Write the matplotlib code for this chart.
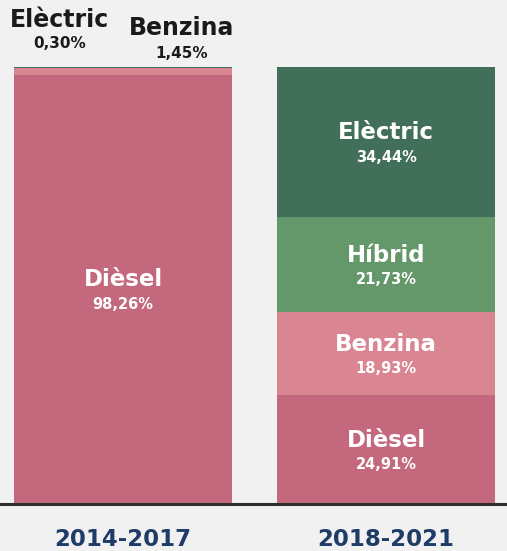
import matplotlib.pyplot as plt
import numpy as np

# data
periods = ['2014-2017', '2018-2021']
categories = ['Dièsel', 'Benzina', 'Híbrid', 'Elèctric']
diesel = [98.26, 24.91]
benzina = [1.45, 18.93]
hibrid = [0.00, 21.73]
electric = [0.30, 34.44]
pct_labels = [['98,26%', '24,91%'], ['1,45%', '18,93%'],
              ['0,00%', '21,73%'], ['0,30%', '34,44%']]

# colours
bg = '#f1f1f1'
colors = ['#c4697d', '#d98592', '#649769', '#416f59']
navy = '#1f3b68'
dark = '#1a1a1a'

plt.rcParams['font.family'] = ['DejaVu Sans']

fig = plt.figure(figsize=(5.07, 5.51), dpi=100)
fig.patch.set_facecolor(bg)
ax = fig.add_axes([0, 0.0853, 1, 0.7931])
ax.set_facecolor(bg)

x = np.arange(len(periods))
series = [diesel, benzina, hibrid, electric]
bottom = np.zeros(len(periods))
bars = []
for vals, col in zip(series, colors):
    b = ax.bar(x, vals, width=0.829, bottom=bottom, color=col, linewidth=0)
    bars.append((b, bottom.copy(), np.array(vals)))
    bottom += np.array(vals)

ax.set_xlim(-0.468, 1.460)
ax.set_ylim(0, 100)
ax.axis('off')

# labels inside segments (only where there is room)
for ci, (b, bot, vals) in enumerate(bars):
    for i in range(len(periods)):
        if vals[i] < 10:
            continue
        yc = bot[i] + vals[i] / 2
        ax.annotate(categories[ci], (x[i], yc), xytext=(0, 2.2), textcoords='offset points',
                    ha='center', va='baseline', color='white', fontsize=16.5, fontweight='bold')
        ax.annotate(pct_labels[ci][i], (x[i], yc), xytext=(0, -14), textcoords='offset points',
                    ha='center', va='baseline', color='white', fontsize=10.5, fontweight='bold')

# small segments of the first bar labelled above it
fig.text(60 / 507, 1 - 27 / 551, 'Elèctric', ha='center', va='baseline',
         fontsize=17, fontweight='bold', color=dark)
fig.text(60 / 507, 1 - 48 / 551, pct_labels[3][0], ha='center', va='baseline',
         fontsize=11, fontweight='bold', color=dark)
fig.text(182 / 507, 1 - 35 / 551, 'Benzina', ha='center', va='baseline',
         fontsize=17, fontweight='bold', color=dark)
fig.text(182 / 507, 1 - 58 / 551, pct_labels[1][0], ha='center', va='baseline',
         fontsize=11, fontweight='bold', color=dark)

# baseline
ax.axhline(0, color='#2e2e2e', linewidth=2.2, clip_on=False)

# period labels
for i, p in enumerate(periods):
    ax.annotate(p, (x[i], 0), xytext=(0, -30.5), textcoords='offset points',
                ha='center', va='baseline', color=navy, fontsize=16.5, fontweight='bold')

fig.savefig('out.png', dpi=100, facecolor=bg)
